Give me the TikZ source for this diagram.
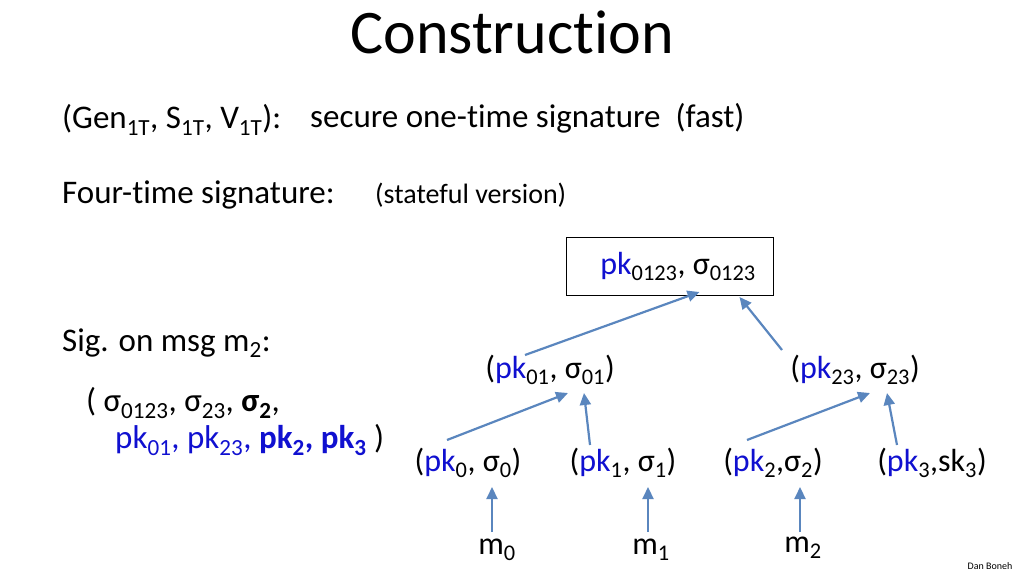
\documentclass[tikz,border=0pt]{standalone}
\usepackage{fontspec}
\setmainfont[Ligatures=NoCommon]{Carlito}
\usetikzlibrary{arrows.meta}
\definecolor{pkb}{HTML}{1010D0}
\definecolor{arr}{HTML}{5A86BE}
\newcommand{\sbs}[1]{\textsubscript{#1}}
\newcommand{\pk}{\textcolor{pkb}{pk}}
\begin{document}
\begin{tikzpicture}[x=1pt,y=-1pt,
  txt/.style={inner sep=0pt,font=\fontsize{33}{36}\selectfont},
  ntxt/.style={inner sep=0pt,font=\fontsize{32}{35}\selectfont},
  arrow/.style={draw=arr,line width=2.2pt,-{Triangle[length=12pt,width=11pt]}}]
\useasboundingbox (0,0) rectangle (1024,576);
\node[inner sep=0pt,font=\fontsize{62}{66}\selectfont] (title) at (512,32) {Construction};
\node[txt,anchor=west] (gen) at (62,120) {(Gen\sbs{1T}, S\sbs{1T}, V\sbs{1T}):};
\node[txt,anchor=west] (gen2) at (310,118) {secure one-time signature\ \ (fast)};
\node[txt,anchor=west] (four) at (62,195) {Four-time signature:};
\node[inner sep=0pt,anchor=west,font=\fontsize{28}{30}\selectfont] (sf) at (375,195) {(stateful version)};
\node[draw,thick,minimum width=207pt,minimum height=58pt,inner sep=0pt] (root) at (669.5,266) {};
\node[ntxt] (roott) at (678,266) {\pk\sbs{0123},\ σ\sbs{0123}};
\node[txt,anchor=west] (sig) at (62,343) {Sig. on msg m\sbs{2}:};
\node[txt,anchor=west] (s1) at (86,403) {(\ σ\sbs{0123}, σ\sbs{23}, \textbf{σ\sbs{2}},};
\node[txt,anchor=west] (s2) at (115,440) {\textcolor{pkb}{pk\sbs{01}, pk\sbs{23}, \textbf{pk\sbs{2}, pk\sbs{3}}} )};
\node[ntxt] (n01) at (550,370) {(\pk\sbs{01}, σ\sbs{01})};
\node[ntxt] (n23) at (855,370) {(\pk\sbs{23}, σ\sbs{23})};
\node[ntxt] (n0) at (468,463) {(\pk\sbs{0}, σ\sbs{0})};
\node[ntxt] (n1) at (623,463) {(\pk\sbs{1}, σ\sbs{1})};
\node[ntxt] (n2) at (773,463) {(\pk\sbs{2},σ\sbs{2})};
\node[ntxt] (n3) at (932,463) {(\pk\sbs{3},sk\sbs{3})};
\node[ntxt] (m0) at (497,550) {m\sbs{0}};
\node[ntxt] (m1) at (651,550) {m\sbs{1}};
\node[ntxt] (m2) at (803,548) {m\sbs{2}};
\node[inner sep=0pt,font=\fontsize{10}{12}\selectfont] (db) at (990,566) {Dan Boneh};
\draw[arrow] ([shift={(-25,-15)}]n01.center) -- ([shift={(30,26)}]root.center);
\draw[arrow] ([shift={(-73,-20)}]n23.center) -- ([shift={(70,31)}]root.center);
\draw[arrow] ([shift={(-21,-23)}]n0.center) -- ([shift={(18,23)}]n01.center);
\draw[arrow] ([shift={(-33,-18)}]n1.center) -- ([shift={(34,23)}]n01.center);
\draw[arrow] ([shift={(-26,-23)}]n2.center) -- ([shift={(15,23)}]n23.center);
\draw[arrow] ([shift={(-35,-18)}]n3.center) -- ([shift={(32,23)}]n23.center);
\draw[arrow] ([shift={(-5,-18)}]m0.center) -- ([shift={(24,24)}]n0.center);
\draw[arrow] ([shift={(-3,-18)}]m1.center) -- ([shift={(25,24)}]n1.center);
\draw[arrow] ([shift={(-3,-16)}]m2.center) -- ([shift={(27,24)}]n2.center);
\end{tikzpicture}
\end{document}
